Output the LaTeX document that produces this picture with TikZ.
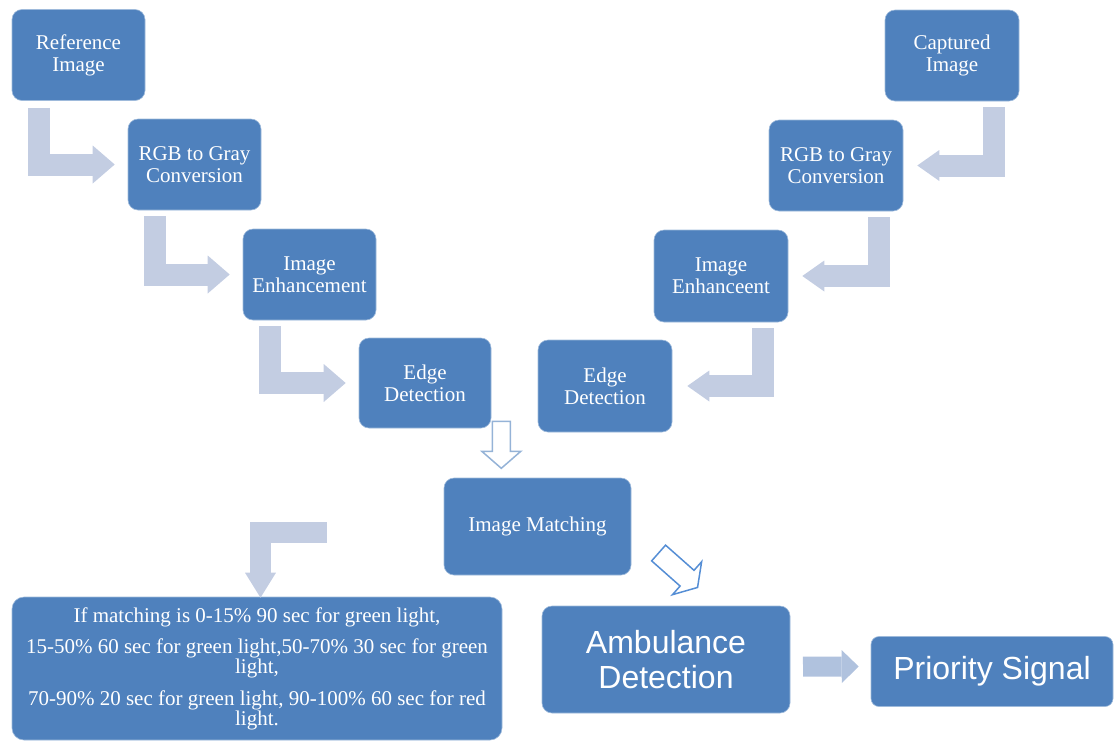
\documentclass[tikz,border=0pt]{standalone}
\usepackage{fontspec}
\setmainfont{Liberation Serif}
\newfontfamily\arialfont{Liberation Sans}
\usetikzlibrary{arrows.meta}
\usetikzlibrary{calc}
\definecolor{boxblue}{HTML}{4F81BD}
\definecolor{bentgray}{HTML}{C3CDE2}
\definecolor{flowblue}{HTML}{B0C2DE}
\definecolor{hollowblue}{HTML}{95B3D7}
\definecolor{diagblue}{HTML}{558ED5}
\tikzset{x=1pt, y=-1pt,
stepbox/.style={ % Sets the properties for each process box
rectangle, rounded corners=10pt,
fill=boxblue, draw=boxblue!55!white, line width=0.6pt,
text=white, align=center, inner sep=0pt,
font=\fontsize{21pt}{22pt}\selectfont,
minimum width=133pt, minimum height=91pt},
bentleft/.style={ % Thick bent arrows on the left branch
draw=bentgray, line width=22pt,
-{Triangle[length=22pt,width=38pt,line width=0pt]}},
bentright/.style={ % Thick bent arrows on the right branch
draw=bentgray, line width=22pt,
-{Triangle[length=22pt,width=31pt,line width=0pt]}},
hollow/.style={ % Outlined block arrows
fill=white, line width=1.5pt, line join=miter}}

\begin{document}
\begin{tikzpicture}
\useasboundingbox (0,0) rectangle (1117,740);
% left branch
\node[stepbox] (ref) at (78.5,55) {Reference\\Image};
\node[stepbox] (rgbL) at (194.5,164.5) {RGB to Gray\\Conversion};
\node[stepbox] (enhL) at (309.5,274.5) {Image\\Enhancement};
\node[stepbox, minimum width=132pt, minimum height=90pt] (edgeL) at (425,383) {Edge\\Detection};
% right branch
\node[stepbox, minimum width=134pt] (cap) at (952,55.5) {Captured\\Image};
\node[stepbox, minimum width=134pt] (rgbR) at (836,165.5) {RGB to Gray\\Conversion};
\node[stepbox, minimum width=134pt, minimum height=92pt] (enhR) at (721,276) {Image\\Enhanceent};
\node[stepbox, minimum width=134pt, minimum height=92pt] (edgeR) at (605,386) {Edge\\Detection};
% matching and results
\node[stepbox, minimum width=187pt, minimum height=97pt] (match) at (537.5,526.5) {Image Matching};
\node[stepbox, rounded corners=12pt, minimum width=490pt, minimum height=143pt,
  font=\fontsize{21pt}{20pt}\selectfont] (rule) at (257,668.5)
  {If matching is 0-15\% 90 sec for green light,\\[11.5pt]
   15-50\% 60 sec for green light,50-70\% 30 sec for green\\
   light,\\[11.5pt]
   70-90\% 20 sec for green light, 90-100\% 60 sec for red\\
   light.};
\node[stepbox, minimum width=248pt, minimum height=107pt,
  font=\arialfont\fontsize{32pt}{35pt}\selectfont] (amb) at (666,659.5) {Ambulance\\Detection};
\node[stepbox, rounded corners=8pt, minimum width=242pt, minimum height=70pt,
  font=\arialfont\fontsize{32pt}{35pt}\selectfont] (prio) at (992,671.5) {Priority Signal};

\draw[bentleft] ([xshift=27.5pt,yshift=-7pt]ref.south west) |- ([xshift=-13pt]rgbL.west);
\draw[bentleft] ([xshift=27pt,yshift=-6pt]rgbL.south west) |- ([xshift=-13pt]enhL.west);
\draw[bentleft] ([xshift=27pt,yshift=-6pt]enhL.south west) |- ([xshift=-13pt]edgeL.west);
\draw[bentright] ([xshift=-25pt,yshift=-6pt]cap.south east) |- ([xshift=14pt]rgbR.east);
\draw[bentright] ([xshift=-24.5pt,yshift=-6pt]rgbR.south east) |- ([xshift=14pt]enhR.east);
\draw[bentright] ([xshift=-25pt,yshift=-6pt]enhR.south east) |- ([xshift=15pt]edgeR.east);
\draw[draw=bentgray, line width=21pt, -{Triangle[length=25pt,width=31pt,line width=0pt]}]
  ([xshift=-117pt,yshift=-6pt]match.west) -| ([xshift=3.5pt,yshift=-1pt]rule.north);
\draw[draw=flowblue, line width=20pt, -{Triangle[length=17pt,width=33pt,line width=0pt]}]
  ([xshift=12.7pt,yshift=-7.2pt]amb.east) -- ([xshift=-12pt,yshift=5pt]prio.west);

% hollow arrows into and out of the matching box
\draw[hollow, draw=hollowblue] ([xshift=1pt,yshift=7pt]edgeL.south east)
  -- ++(18,0) -- ++(0,30) -- ++(10.5,0) -- ++(-19.5,17) -- ++(-19.5,-17) -- ++(10.5,0) -- cycle;
\begin{scope}[shift={($(match.east)+(27.3,26.5)$)}, rotate=-41.5]
\draw[hollow, draw=diagblue] (0,-10.5) -- (38,-10.5) -- (38,-22) -- (52,0)
  -- (38,22) -- (38,10.5) -- (0,10.5) -- cycle;
\end{scope}
\end{tikzpicture}
\end{document}
